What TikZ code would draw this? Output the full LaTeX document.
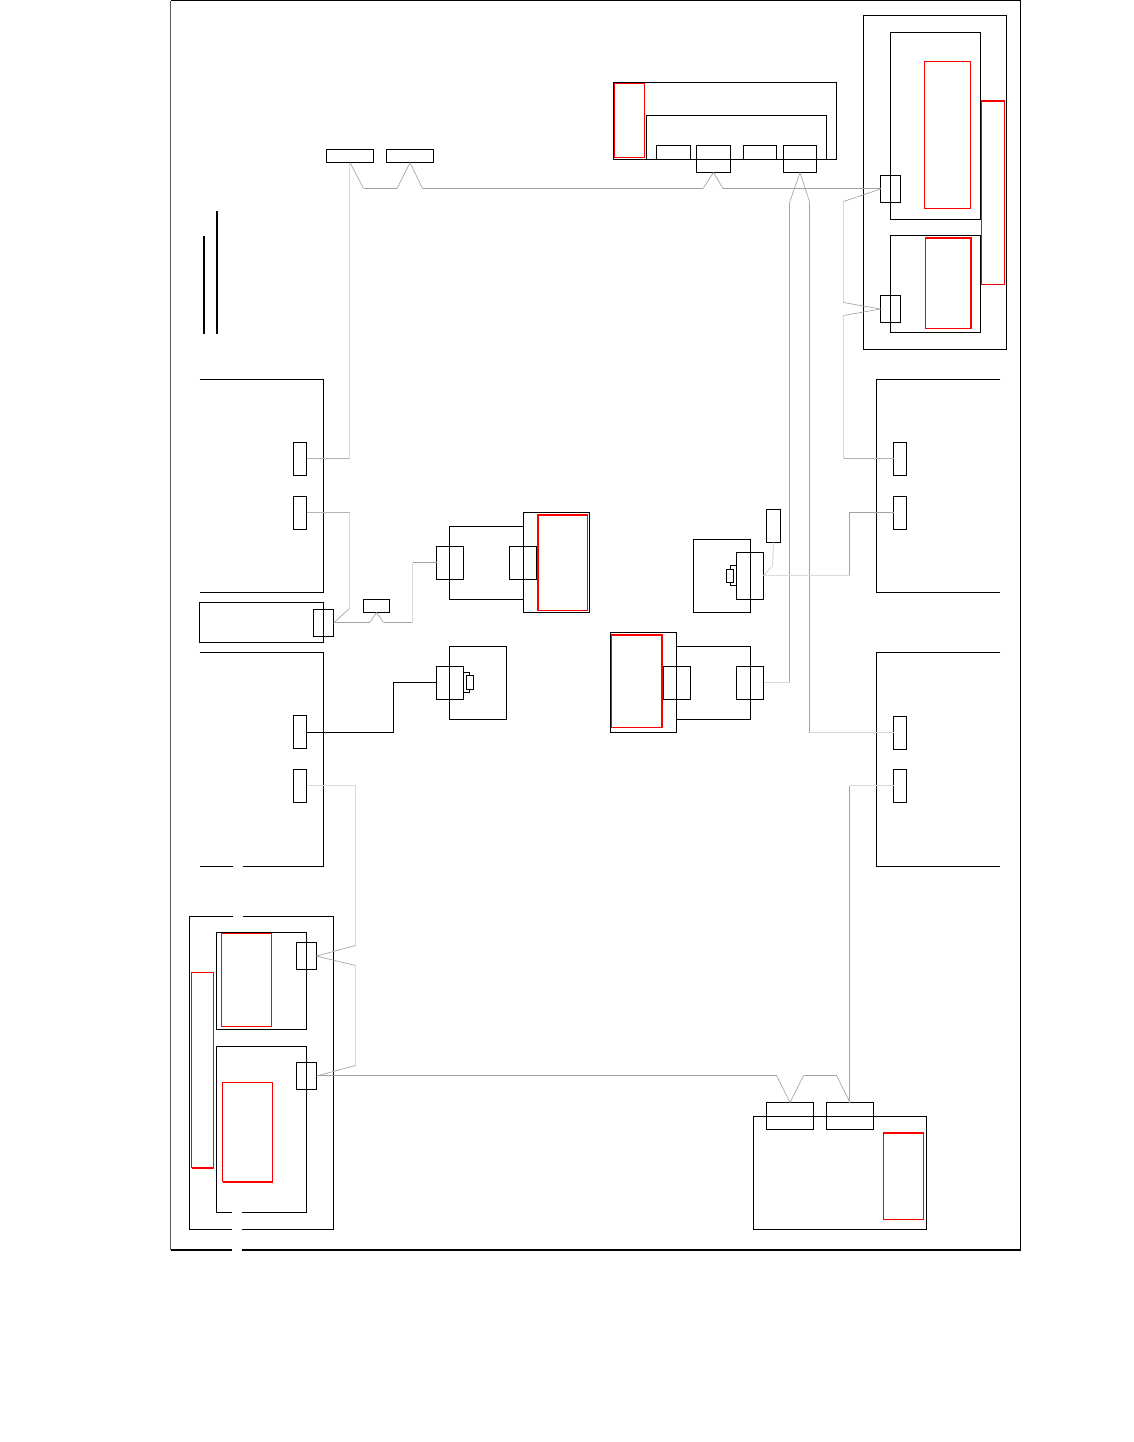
\documentclass[tikz,border=0pt]{standalone}
\usepackage{xcolor}
\definecolor{wiredark}{gray}{0.64}
\definecolor{wirefaint}{gray}{0.85}
\definecolor{cardred}{RGB}{255,0,0}
\newcommand{\pxu}{0.75pt}
\begin{document}
\begin{tikzpicture}[
  x=0.75pt, y=-0.75pt, line width=0.75pt,
  wh/.style 2 args={minimum width=#1*\pxu, minimum height=#2*\pxu},
  unit/.style={draw=black, inner sep=0pt, outer sep=0pt},
  redcard/.style={draw=cardred, inner sep=0pt, outer sep=0pt},
  redthick/.style={draw=cardred, line width=1.5pt},
  wire/.style={draw=wiredark},
  midwire/.style={draw=wiredark!70!wirefaint},
  faint/.style={draw=wirefaint},
  slant/.style={draw=wiredark, line width=0.5pt}
]
  \useasboundingbox (0,0) rectangle (1134,1442);

  % outer frame
  \node[inner sep=0pt, outer sep=0pt] (frame) at (595.5,625.25) [wh={850}{1249.5}] {};
  \draw (frame.north west) -- (frame.north east);
  \draw[line width=1pt] (frame.north east) -- (frame.south east);
  \draw[line width=1.4pt] (frame.south west) -- (frame.south east);
  \draw[draw=black!65] (frame.south west) -- (frame.north west);

  % wall strokes
  \coordinate (barAtop) at (204,236);
  \coordinate (barAbot) at (204,334);
  \coordinate (barBtop) at (217.2,211);
  \coordinate (barBbot) at (217.2,334);
  \draw[line width=1.1pt] (barAtop) -- (barAbot);
  \draw[line width=1.1pt] (barBtop) -- (barBbot);

  % open racks
  \draw (199.5,379.5) -- (323.5,379.5) -- (323.5,592.5) -- (199.5,592.5);
  \draw (199.5,652.5) -- (323.5,652.5) -- (323.5,866.5) -- (199.5,866.5);
  \draw (1000,379.5) -- (876.5,379.5) -- (876.5,592.5) -- (1000,592.5);
  \draw (1000,652.5) -- (876.5,652.5) -- (876.5,866.5) -- (1000,866.5);

  % top right shelf
  \node[unit, wh={143}{334}] (shelfR) at (935,182.5) {};
  \node[unit, wh={90}{187}] (cardU) at (935.5,126) {};
  \node[redcard, wh={46}{147}] (redU) at (947.5,135) {};
  \node[unit, wh={90}{97}] (cardL) at (935.5,284) {};
  \node[redcard, wh={45}{91}] (redL) at (948,283) {};
  \draw[redthick] (redL.north west) -- (redL.north east) -- (redL.south east);
  \node[redcard, wh={23}{184}] (redS) at (993,192.5) {};
  \draw[redthick] (redS.north west) -- (redS.north east);
  \node[unit, wh={20}{27}] (portU) at (890.5,189) {};
  \node[unit, wh={20}{27}] (portL) at (890.5,309) {};

  % top chassis
  \node[unit, wh={223}{77}] (chassis) at (725,121) {};
  \node[redcard, wh={30}{74}] (redC) at (629.5,120.5) {};
  \node[unit, wh={180}{44}] (tray) at (736.5,137.5) {};
  \node[unit, wh={34}{14}] (slotA) at (673.5,152.5) {};
  \node[unit, wh={34}{27}] (portA) at (713.5,159) {};
  \node[unit, wh={33}{14}] (slotB) at (760,152.5) {};
  \node[unit, wh={33}{27}] (portB) at (800,159) {};

  % top left switches
  \node[unit, wh={47}{13}] (swA) at (350,156) {};
  \node[unit, wh={47}{13}] (swB) at (410,156) {};

  % left ports
  \node[unit, wh={13}{33}] (leftA) at (300,459) {};
  \node[unit, wh={13}{33}] (leftB) at (300,513) {};
  \node[unit, wh={124}{40}] (server) at (261.5,622.5) {};
  \node[unit, wh={20}{27}] (serverP) at (323.5,623) {};
  \node[unit, wh={26}{13}] (swS) at (376.5,606) {};
  \node[unit, wh={13}{33}] (leftC) at (300,732) {};
  \node[unit, wh={13}{33}] (leftD) at (300,786) {};

  % centre boxes
  \node[unit, wh={74}{73}] (boxA) at (486.5,563) {};
  \node[unit, wh={27}{33}] (boxAw) at (450,563) {};
  \node[unit, wh={27}{33}] (boxAe) at (523,563) {};
  \node[unit, wh={66}{100}] (enclA) at (556.5,562.5) {};
  \node[redcard, wh={50}{96}] (redA) at (562.5,562.5) {};
  \draw[redthick] (redA.south west) -- (redA.north west) -- (redA.north east);
  \node[unit, wh={57}{73}] (boxB) at (478,683) {};
  \node[unit, wh={27}{33}] (boxBw) at (450,683) {};
  \node[unit, wh={6}{20}] (capB) at (466.5,682.5) {};
  \node[unit, fill=white, wh={7}{14}] (tipB) at (470,682.5) {};
  \node[unit, wh={57}{73}] (boxC) at (722,576) {};
  \node[unit, wh={27}{47}] (boxCe) at (750,576) {};
  \node[unit, wh={6}{20}] (capC) at (733.5,575.5) {};
  \node[unit, fill=white, wh={7}{13}] (tipC) at (730,576) {};
  \node[unit, wh={14}{33}] (tall) at (773.5,526) {};
  \node[unit, wh={74}{73}] (boxD) at (713.5,683) {};
  \node[unit, wh={66}{100}] (enclD) at (643.5,682.5) {};
  \node[redcard, wh={50}{93}] (redD) at (636.5,681) {};
  \draw[redthick] (redD.north west) -- (redD.north east) -- (redD.south east);
  \node[unit, wh={27}{33}] (boxDw) at (677,683) {};
  \node[unit, wh={27}{33}] (boxDe) at (750,683) {};

  % right ports
  \node[unit, wh={13}{33}] (rightA) at (900,459) {};
  \node[unit, wh={13}{33}] (rightB) at (900,513) {};
  \node[unit, wh={13}{33}] (rightC) at (900,733) {};
  \node[unit, wh={13}{33}] (rightD) at (900,786) {};

  % bottom left shelf
  \node[unit, wh={144}{313}] (shelfL) at (261.5,1073) {};
  \node[unit, wh={90}{97}] (cardA) at (261.5,981) {};
  \node[redcard, wh={50}{93}] (redE) at (246.5,980) {};
  \node[redcard, wh={22}{195}] (redF) at (202.5,1070) {};
  \draw[redthick] (redF.south west) -- (redF.south east);
  \node[unit, wh={90}{166}] (cardB) at (261.5,1129.5) {};
  \node[redcard, wh={50}{99}] (redG) at (247.5,1132) {};
  \draw[redthick] (redG.south west) -- (redG.south east);
  \node[unit, wh={20}{27}] (portE) at (306.5,956) {};
  \node[unit, wh={20}{27}] (portF) at (306.5,1076) {};

  % bottom right box
  \node[unit, wh={173}{113}] (boxE) at (840,1173) {};
  \node[unit, wh={47}{27}] (portG) at (790,1116) {};
  \node[unit, wh={47}{27}] (portH) at (850,1116) {};
  \node[redcard, wh={40}{87}] (redH) at (903.5,1176) {};
  \draw[redthick] (redH.north west) -- (redH.north east);

  % breaks in the lines
  \fill[white] (233,860) rectangle (243,920);
  \fill[white] (232,1205) rectangle (242,1253);

  % top run
  \draw[slant] (swA.south) -- (363.5,188.5);
  \draw[wire] (363.5,188.5) -- (397,188.5);
  \draw[slant] (397,188.5) -- (swB.south) -- (422.5,188.5);
  \draw[wire] (422.5,188.5) -- (703,188.5);
  \draw[slant] (703,188.5) -- (portA.south) -- (723,188.5);
  \draw[wire] (723,188.5) -- (portU.west |- 0,188.5);

  % long verticals
  \draw[slant] (portB.south) -- (789.5,202.5);
  \draw[wire] (789.5,202.5) -- (789.5,682.5);
  \draw[faint] (789.5,682.5) -- (boxDe.east |- 0,682.5);
  \draw[slant] (portB.south) -- (809.5,201.5);
  \draw[wire] (809.5,201.5) -- (809.5,732.5);
  \draw[faint] (809.5,732.5) -- (rightC.west |- 0,732.5);

  % right shelf to racks
  \draw[slant] (portU.west) -- (843.5,201.5);
  \draw[faint] (843.5,201.5) -- (843.5,302.5);
  \draw[slant] (843.5,302.5) -- (portL.west) -- (843.5,315.5);
  \draw[faint] (843.5,315.5) -- (843.5,458.5);
  \draw[midwire] (843.5,458.5) -- (rightA.west |- 0,458.5);
  \draw[wire] (rightB.west |- 0,512.5) -- (849.5,512.5) -- (849.5,575.5);
  \draw[faint] (849.5,575.5) -- (boxCe.east |- 0,575.5);
  \draw[faint] (boxCe.east) -- (772.5,565.5) -- (tall.south);

  % bottom right
  \draw[faint] (rightD.west |- 0,785.5) -- (849.5,785.5);
  \draw[wire] (849.5,785.5) -- (849.5,1102.5);
  \draw[wire] (portF.east |- 0,1075.5) -- (776.5,1075.5);
  \draw[slant] (776.5,1075.5) -- (portG.north) -- (803.5,1075.5);
  \draw[wire] (803.5,1075.5) -- (836.5,1075.5);
  \draw[slant] (836.5,1075.5) -- (portH.north);

  % left side
  \draw[faint] (leftD.east |- 0,785.5) -- (355.5,785.5) -- (355.5,945.5);
  \draw[slant] (355.5,945.5) -- (portE.east) -- (355.5,965.5);
  \draw[faint] (355.5,965.5) -- (355.5,1065.5);
  \draw[slant] (355.5,1065.5) -- (portF.east);
  \draw[faint] (349.5,0 |- swA.south) -- (349.5,458.5);
  \draw[midwire] (349.5,458.5) -- (leftA.east |- 0,458.5);
  \draw[midwire] (leftB.east |- 0,512.5) -- (349.5,512.5);
  \draw[faint] (349.5,512.5) -- (349.5,608.5);
  \draw[slant] (349.5,608.5) -- (serverP.east);
  \draw[wire] (serverP.east |- 0,622.5) -- (369.5,622.5);
  \draw[slant] (369.5,622.5) -- (swS.south) -- (383.5,622.5);
  \draw[wire] (383.5,622.5) -- (412.5,622.5);
  \draw[faint] (412.5,622.5) -- (412.5,562.5);
  \draw[wire] (412.5,562.5) -- (boxAw.west |- 0,562.5);
  \draw (leftC.east |- 0,732.5) -- (393.5,732.5) -- (393.5,682.5) -- (boxBw.west |- 0,682.5);
\end{tikzpicture}
\end{document}
